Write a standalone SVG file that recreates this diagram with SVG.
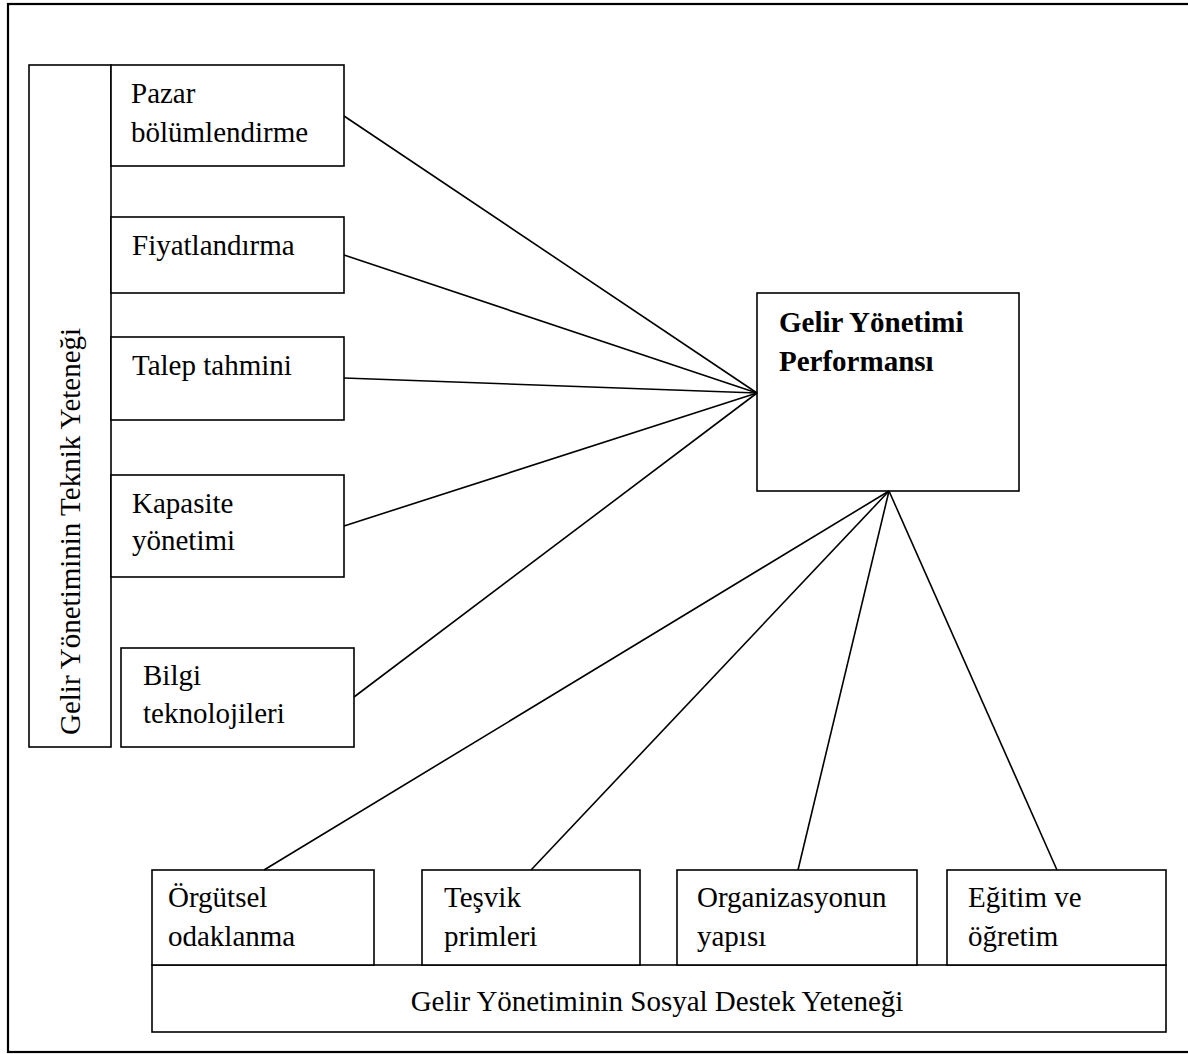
<svg xmlns="http://www.w3.org/2000/svg" width="1188" height="1054" viewBox="0 0 1188 1054">
<style>
.box{fill:#fff;stroke:#000;stroke-width:1.6}
.frame{fill:none;stroke:#000;stroke-width:2.2}
.t{font-family:"Liberation Serif","Times New Roman",serif;font-size:29px;fill:#000}
.b{font-weight:bold}
.con line{stroke:#000;stroke-width:1.6}
</style>
<rect width="1188" height="1054" fill="#fff"/>
<rect class="frame" x="8" y="4" width="1200" height="1048"/>
<g id="technical">
<rect class="box" x="29" y="65" width="82" height="682"/>
<text class="t" transform="translate(80,735) rotate(-90)">Gelir Yönetiminin Teknik Yeteneği</text>
</g>
<g id="pazar">
<rect class="box" x="111" y="65" width="233" height="101"/>
<text class="t" x="131" y="103">Pazar</text>
<text class="t" x="131" y="142">bölümlendirme</text>
</g>
<g id="fiyat">
<rect class="box" x="111" y="217" width="233" height="76"/>
<text class="t" x="132" y="255">Fiyatlandırma</text>
</g>
<g id="talep">
<rect class="box" x="111" y="337" width="233" height="83"/>
<text class="t" x="132" y="375">Talep tahmini</text>
</g>
<g id="kapasite">
<rect class="box" x="111" y="475" width="233" height="102"/>
<text class="t" x="132" y="513">Kapasite</text>
<text class="t" x="132" y="550">yönetimi</text>
</g>
<g id="bilgi">
<rect class="box" x="121" y="648" width="233" height="99"/>
<text class="t" x="143" y="685">Bilgi</text>
<text class="t" x="143" y="723">teknolojileri</text>
</g>
<g id="performance">
<rect class="box" x="757" y="293" width="262" height="198"/>
<text class="t b" x="779" y="332">Gelir Yönetimi</text>
<text class="t b" x="779" y="371">Performansı</text>
</g>
<g id="social">
<rect class="box" x="152" y="965" width="1014" height="67"/>
<text class="t" x="657" y="1011" text-anchor="middle">Gelir Yönetiminin Sosyal Destek Yeteneği</text>
</g>
<g id="orgutsel">
<rect class="box" x="152" y="870" width="222" height="95"/>
<text class="t" x="168" y="907">Örgütsel</text>
<text class="t" x="168" y="946">odaklanma</text>
</g>
<g id="tesvik">
<rect class="box" x="422" y="870" width="218" height="95"/>
<text class="t" x="444" y="907">Teşvik</text>
<text class="t" x="444" y="946">primleri</text>
</g>
<g id="organizasyon">
<rect class="box" x="677" y="870" width="240" height="95"/>
<text class="t" x="697" y="907">Organizasyonun</text>
<text class="t" x="697" y="946">yapısı</text>
</g>
<g id="egitim">
<rect class="box" x="947" y="870" width="219" height="95"/>
<text class="t" x="968" y="907">Eğitim ve</text>
<text class="t" x="968" y="946">öğretim</text>
</g>
<g id="connectors" class="con">
<line x1="344" y1="116" x2="757" y2="393"/>
<line x1="344" y1="255" x2="757" y2="393"/>
<line x1="344" y1="378" x2="757" y2="393"/>
<line x1="344" y1="526" x2="757" y2="393"/>
<line x1="354" y1="697" x2="757" y2="393"/>
<line x1="264" y1="870" x2="889" y2="491"/>
<line x1="531" y1="870" x2="889" y2="491"/>
<line x1="798" y1="870" x2="889" y2="491"/>
<line x1="1057" y1="870" x2="889" y2="491"/>
</g>
</svg>
